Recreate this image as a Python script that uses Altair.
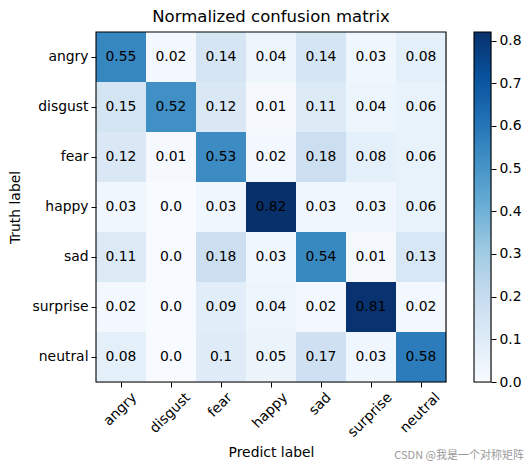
import altair as alt
import pandas as pd

classes = ["angry", "disgust", "fear", "happy", "sad", "surprise", "neutral"]
matrix = [
    [0.55, 0.02, 0.14, 0.04, 0.14, 0.03, 0.08],
    [0.15, 0.52, 0.12, 0.01, 0.11, 0.04, 0.06],
    [0.12, 0.01, 0.53, 0.02, 0.18, 0.08, 0.06],
    [0.03, 0.0, 0.03, 0.82, 0.03, 0.03, 0.06],
    [0.11, 0.0, 0.18, 0.03, 0.54, 0.01, 0.13],
    [0.02, 0.0, 0.09, 0.04, 0.02, 0.81, 0.02],
    [0.08, 0.0, 0.1, 0.05, 0.17, 0.03, 0.58],
]
color_min, color_max = 0.0, 0.82
colorbar_ticks = [0.0, 0.1, 0.2, 0.3, 0.4, 0.5, 0.6, 0.7, 0.8]
blues = ["#f7fbff", "#deebf7", "#c6dbef", "#9ecae1", "#6baed6",
         "#4292c6", "#2171b5", "#08519c", "#08306b"]

rows = []
for i, t in enumerate(classes):
    for j, p in enumerate(classes):
        v = matrix[i][j]
        rows.append({"truth": t, "pred": p, "value": v, "label": str(v)})
df = pd.DataFrame(rows)

FONT = "DejaVu Sans"
FS = 13.9

# approximate DejaVu Sans advance widths (em) to mimic matplotlib's
# centre-aligned 45-degree tick labels
W = {"a": .613, "b": .635, "c": .550, "d": .635, "e": .615, "f": .352, "g": .635,
     "h": .634, "i": .278, "l": .278, "n": .634, "p": .635, "r": .411, "s": .521,
     "t": .392, "u": .634, "y": .592, "o": .612, "m": .974, "x": .592}
conds = []
for c in classes:
    L = sum(W.get(ch, 0.6) for ch in c)
    off = (L - 1.16) * FS / (2 * 2 ** 0.5)
    conds.append({"test": f"datum.value === '{c}'", "value": round(off, 1)})
label_offset = {"condition": conds, "value": 0}

common_axis = dict(tickSize=5, labelPadding=3, domain=False, grid=False,
                   tickColor="black", labelColor="black", titleColor="black",
                   labelFontSize=FS, titleFontSize=FS, titleFontWeight="normal",
                   labelFont=FONT, titleFont=FONT)

x_enc = alt.X("pred:N", sort=classes, title="Predict label",
              axis=alt.Axis(labelAngle=315, labelAlign="right", labelBaseline="top",
                            labelOffset=label_offset, titlePadding=6, **common_axis))
y_enc = alt.Y("truth:N", sort=classes, title="Truth label",
              axis=alt.Axis(titlePadding=10, **common_axis))

heat = alt.Chart(df).mark_rect().encode(
    x=x_enc,
    y=y_enc,
    color=alt.Color("value:Q",
                    scale=alt.Scale(domain=[color_min, color_max], range=blues,
                                    interpolate="rgb", nice=False),
                    legend=None),
)

text = alt.Chart(df).mark_text(fontSize=FS, font=FONT, color="black").encode(
    x=alt.X("pred:N", sort=classes),
    y=alt.Y("truth:N", sort=classes),
    text="label:N",
)

# black frame (matplotlib spines) drawn above the cells
frame = alt.Chart(pd.DataFrame({"f": [0]})).mark_rect(
    fillOpacity=0, stroke="black", strokeWidth=1.1
).encode(x=alt.value(0), x2=alt.value(350), y=alt.value(0), y2=alt.value(350))

main = alt.layer(heat, text, frame).properties(
    width=350, height=350,
    title=alt.TitleParams("Normalized confusion matrix", fontSize=16.5, font=FONT,
                          fontWeight="normal", color="black", offset=6),
)

grad = alt.Gradient(
    gradient="linear",
    stops=[alt.GradientStop(offset=k / (len(blues) - 1), color=c) for k, c in enumerate(blues)],
    x1=0, x2=0, y1=1, y2=0,
)
colorbar = alt.Chart(pd.DataFrame({"lo": [color_min], "hi": [color_max]})).mark_rect(
    fill=grad, stroke="black", strokeWidth=1.1
).encode(
    x=alt.value(0), x2=alt.value(17),
    y=alt.Y("lo:Q", scale=alt.Scale(domain=[color_min, color_max], nice=False, zero=False),
            axis=alt.Axis(orient="right", values=colorbar_ticks, format=".1f", title=None,
                          **common_axis)),
    y2="hi:Q",
)

watermark = alt.Chart(pd.DataFrame({"t": ["CSDN @我是一个对称矩阵"]})).mark_text(
    font="Noto Sans CJK SC", fontSize=11, color="#9a9a9a", align="right", baseline="middle"
).encode(x=alt.value(50), y=alt.value(424), text="t:N")

side = alt.layer(colorbar, watermark).properties(width=17, height=350)

# with autosize "none" a concat has no own width/height, so the padding spans the page
chart = alt.hconcat(main, side, spacing=28, bounds="flush").properties(
    autosize=alt.AutoSizeParams(type="none"),
    padding={"left": 88, "top": 24, "right": 428, "bottom": 430},
).configure_view(stroke="black", strokeWidth=1).configure(background="white")

chart.save("out.html", embed_options={"renderer": "svg", "actions": False})
